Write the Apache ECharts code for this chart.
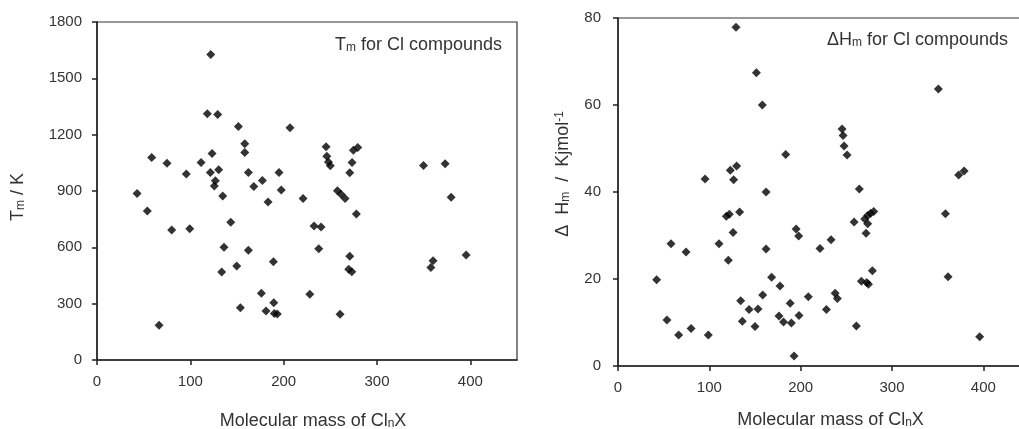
<!DOCTYPE html>
<html>
<head>
<meta charset="utf-8">
<script src="https://cdn.jsdelivr.net/npm/echarts@6/dist/echarts.min.js"></script>
<style>html,body{margin:0;padding:0;background:#fff;overflow:hidden;}#c{width:1019px;height:429px;}</style>
</head>
<body>
<div id="c"></div>
<script>
// Left panel: melting temperature vs molecular mass
const leftMass = [42.9,53.9,58.6,66.5,75,80,95.7,99.4,111.5,118.2,121.9,123.3,121.5,129.3,130.4,126.8,125.7,134.7,136.1,133.6,143.3,149.7,151.5,153.6,158.3,158.3,162.2,162.2,168,176.1,177.2,181.1,183.3,189,189.4,190,193.2,195,197.4,206.8,220.8,228,232.6,237.6,240.1,245.4,246.2,248,250,257.6,261.5,265.8,260.4,269.7,270.8,270.8,273,273.3,274.7,277.9,279.4,349.8,357.7,360.1,373,379.4,395.5];
const leftTm = [887,794,1079,185,1048,692,991,699,1052,1311,1627,1100,999,1307,1013,954,927,874,601,468,733,500,1243,278,1151,1105,999,584,924,355,956,261,842,523,305,248,245,999,905,1237,860,350,713,592,708,1135,1085,1055,1034,901,883,860,243,483,553,997,470,1052,1117,777,1132,1036,493,528,1045,867,559];
// Right panel: enthalpy of melting vs molecular mass
const rightMass = [42.3,53.6,58,66.4,74.5,80,95.3,98.9,110.6,118.6,121.9,120.8,123,126.6,126,129.2,129.9,133.2,134.3,136.1,143.5,150,151.5,153.3,158,158.4,162.1,162.1,168.2,176.3,177.4,181.2,183.6,188.5,189.8,192.8,195,197.8,198.2,208.4,221.2,228.2,233.3,237.7,240.2,245.3,246.4,247.5,250.8,258.5,261,264.2,266.5,270.1,271.6,272.3,273.4,273.4,274.2,276.7,278.5,280,350.8,358.5,361.4,373,379,396];
const rightHm = [19.8,10.6,28.1,7.1,26.2,8.6,43.0,7.1,28.1,34.4,34.9,24.3,45.0,42.8,30.7,77.9,46.0,35.4,15.0,10.3,13.0,9.1,67.4,13.1,60.0,16.3,40.0,26.9,20.4,11.5,18.4,10.1,48.6,14.4,9.9,2.3,31.5,29.9,11.6,15.9,27.0,13.0,29.0,16.7,15.5,54.5,53.0,50.6,48.5,33.1,9.2,40.7,19.5,33.8,30.5,19.2,34.6,32.7,18.8,35.1,21.9,35.5,63.7,35.0,20.5,43.9,44.8,6.7];
const xTicks = [0,100,200,300,400];
const leftYTicks = [0,300,600,900,1200,1500,1800];
const rightYTicks = [0,20,40,60,80];

const leftData = leftMass.map((m,i)=>[m,leftTm[i]]);
const rightData = rightMass.map((m,i)=>[m,rightHm[i]]);

const FONT = '"Liberation Sans", Arial, sans-serif';
const AX = '#222';
const TXT = '#333';
const subStyle = {fontFamily:FONT,fontSize:12,color:TXT,verticalAlign:'bottom',padding:[6,0,0,0]};
const supStyle = {fontFamily:FONT,fontSize:12,color:TXT,verticalAlign:'top',padding:[0,0,6,0]};

function xAxisCfg(gi,max,padLeft,gap){
  return {
    gridIndex: gi, type:'value', min:0, max:max,
    name: 'Molecular mass of Cl{s|n}X',
    nameLocation:'middle', nameGap: gap,
    nameTextStyle:{fontFamily:FONT,fontSize:18,color:TXT,rich:{s:subStyle},padding:[0,0,0,padLeft]},
    axisLine:{show:true,onZero:false,lineStyle:{color:AX,width:1.5}},
    axisTick:{show:true,inside:false,length:5,lineStyle:{color:AX,width:1.5},customValues:xTicks},
    axisLabel:{fontFamily:FONT,fontSize:15,color:TXT,margin:14,customValues:xTicks,formatter:v=>String(v)},
    splitLine:{show:false}
  };
}
function yAxisCfg(gi,max,interval,name,nameGap,rich,pad,labMargin){
  return {
    gridIndex: gi, type:'value', min:0, max:max, interval:interval,
    name: name, nameLocation:'middle', nameGap:nameGap, nameRotate:90,
    nameTextStyle:{fontFamily:FONT,fontSize:18,color:TXT,rich:rich,padding:pad},
    axisLine:{show:true,onZero:false,lineStyle:{color:AX,width:1.5}},
    axisTick:{show:true,inside:false,length:5,lineStyle:{color:AX,width:1.5}},
    axisLabel:{fontFamily:FONT,fontSize:15,color:TXT,margin:labMargin,formatter:v=>String(v)},
    splitLine:{show:false}
  };
}

const chart = echarts.init(document.getElementById('c'), null, {renderer:'canvas'});
chart.setOption({
  backgroundColor:'#fff',
  animation:false,
  title:[
    {text:'T{s|m} for Cl compounds', left:330, top:31,
     textStyle:{fontFamily:FONT,fontSize:18,fontWeight:'normal',color:TXT,rich:{s:subStyle}}},
    {text:'ΔH{s|m} for Cl compounds', left:822, top:26,
     textStyle:{fontFamily:FONT,fontSize:18,fontWeight:'normal',color:TXT,rich:{s:subStyle}}}
  ],
  grid:[
    {left:97, top:22, width:420, height:338, show:true, borderColor:'#333', borderWidth:1.2,
     backgroundColor:'#fff', outerBoundsMode:'none', containLabel:false},
    {left:618, top:18, width:411, height:348, show:true, borderColor:'#333', borderWidth:1.2,
     backgroundColor:'#fff', outerBoundsMode:'none', containLabel:false}
  ],
  xAxis:[xAxisCfg(0,450,12,52), xAxisCfg(1,450,14,45)],
  yAxis:[
    yAxisCfg(0,1800,300,'T{s|m} / K',70,{s:subStyle},[0,12,0,0],15),
    yAxisCfg(1,80,20,'Δ  H{s|m}  /  Kjmol{p|-1}',46,{s:subStyle,p:supStyle},[0,0,0,36],17)
  ],
  series:[
    {type:'scatter', xAxisIndex:0, yAxisIndex:0, data:leftData, symbol:'diamond', symbolSize:9,
     itemStyle:{color:'#000'}},
    {type:'scatter', xAxisIndex:1, yAxisIndex:1, data:rightData, symbol:'diamond', symbolSize:9,
     itemStyle:{color:'#000'}}
  ]
});
</script>
</body>
</html>
